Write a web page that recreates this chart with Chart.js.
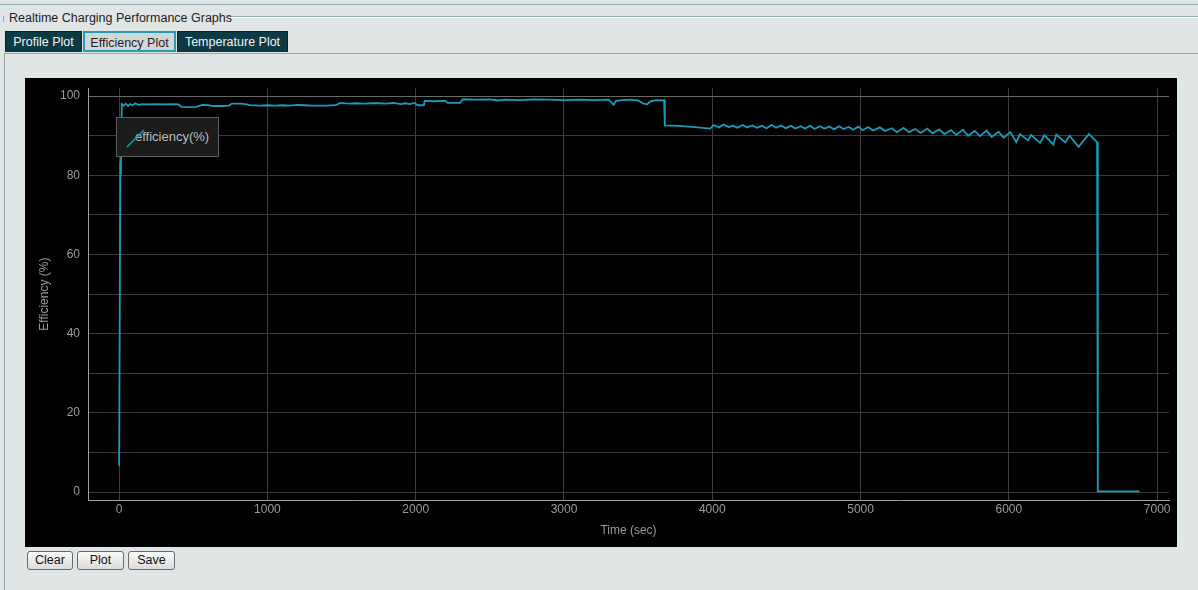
<!DOCTYPE html>
<html>
<head>
<meta charset="utf-8">
<script src="https://cdn.jsdelivr.net/npm/chart.js@4.4.1/dist/chart.umd.min.js"></script>
<style>
  html, body { margin:0; padding:0; width:1198px; height:590px; overflow:hidden; background:#e0e6e6; font-family:"Liberation Sans", Arial, sans-serif; }
  #topline { position:absolute; left:0; top:4px; width:1198px; height:1px; background:#8fb0b6; }
  #fsline { position:absolute; left:228px; top:16px; width:970px; height:1px; background:#8fa9ad; box-shadow:0 1px 0 #fff; }
  #fsleft { position:absolute; left:3px; top:16px; width:1px; height:6px; background:#8fa9ad; }
  #title { position:absolute; left:9px; top:11px; font-size:12.5px; color:#1e1e1e; }
  .tab { position:absolute; top:31px; height:21px; line-height:21px; font-size:12.5px; text-align:center; box-sizing:border-box; }
  .dark { background:#0d3a44; color:#eef4f4; border:1px solid #062429; border-bottom:none; }
  .sel { background:#d2d6d6; color:#1e1e1e; border:2px solid #2a9ab3; }
  #panel { position:absolute; left:4px; top:53px; width:1194px; height:537px; border-top:1px solid #9aa4a4; border-left:1px solid #9aa4a4; box-sizing:border-box; background:#e0e6e6; }
  #chartbox { position:absolute; left:25px; top:78px; width:1152px; height:469px; background:#000; overflow:hidden; }
  #c { position:absolute; left:0; top:-5px; }
  #legend { position:absolute; left:116px; top:117px; width:103px; height:40px; box-sizing:border-box; background:#1b1b1b; border:1px solid #5e5e5e; }
  #legend span { position:absolute; left:18px; top:11px; font-size:13px; color:#bdbdbd; }
  #legend svg { position:absolute; left:9px; top:11px; z-index:2; }
  .btn { position:absolute; top:551px; height:19px; line-height:17px; box-sizing:border-box; font-size:12.5px; text-align:center; color:#111; border:1px solid #6a6a6a; border-radius:3px; background:linear-gradient(#fafafa,#dcdcdc); }
</style>
</head>
<body>
<div id="topline"></div>
<div id="fsline"></div>
<div id="fsleft"></div>
<div id="title">Realtime Charging Performance Graphs</div>
<div id="panel"></div>
<div class="tab dark" style="left:5px;width:77px;">Profile Plot</div>
<div class="tab sel" style="left:83px;width:93px;">Efficiency Plot</div>
<div class="tab dark" style="left:177px;width:111px;">Temperature Plot</div>
<div id="chartbox"><canvas id="c" width="1152" height="474"></canvas></div>
<div id="legend"><span id="legtext"></span><svg width="20" height="20"><line x1="1" y1="18" x2="18" y2="1" stroke="#1a9cb8" stroke-width="1.4"/></svg></div>
<div class="btn" style="left:27px;width:46px;">Clear</div>
<div class="btn" style="left:77px;width:47px;">Plot</div>
<div class="btn" style="left:128px;width:47px;">Save</div>
<script>
const seriesLabel = "efficiency(%)";
const xTitle = "Time (sec)";
const yTitle = "Efficiency (%)";
const xTickValues = [0,1000,2000,3000,4000,5000,6000,7000];
const yTickValues = [0,10,20,30,40,50,60,70,80,90,100];

const timeSec = [
  0,8,12,18,30,45,60,75,90,110,130,160,200,250,300,350,400,420,470,520,560,600,635,700,740,760,820,860,880,950,
  1000,1050,1100,1150,1200,1250,1300,1350,1400,1460,1490,1550,1600,1650,1700,1750,1800,1850,1900,1930,1960,1990,
  2015,2055,2060,2120,2200,2215,2300,2317,2400,2500,2550,2600,2700,2800,2900,3000,3100,3200,3300,3320,3335,3350,
  3400,3450,3500,3530,3560,3580,3620,3660,3675,3680,3800,3900,3985,
  4010,4045,4075,4110,4140,4170,4205,4235,4270,4300,4335,4365,4400,4430,4465,4495,4530,4560,4595,4625,4660,4690,
  4725,4755,4790,4820,4855,4885,4920,4950,4985,5015,
  5050,5085,5130,5165,5210,5245,5290,5325,5370,5405,5450,5485,5530,5565,5610,5645,5690,5725,5770,5805,5850,5885,
  5930,5965,6010,6050,6075,6130,6150,6210,6240,6300,6320,6380,6410,6470,6540,6595,6600,6880
];
const efficiency = [
  6.5,82,81.5,98.0,97.6,98.1,97.5,98.0,97.7,98.2,97.8,98.0,97.9,98.0,97.9,98.0,97.9,97.3,97.2,97.3,97.8,97.7,97.5,97.5,97.6,98.1,98.1,97.9,97.7,97.6,
  97.7,97.6,97.7,97.6,97.8,97.7,97.6,97.6,97.6,97.7,98.3,98.1,98.2,98.1,98.2,98.2,98.1,98.3,98.0,98.2,98.0,98.3,
  97.7,97.7,98.8,98.7,98.8,98.3,98.3,99.2,99.1,99.2,98.9,99.1,99.0,99.2,99.1,99.0,99.1,99.0,99.1,98.4,97.8,98.8,
  99.0,99.1,98.9,98.2,97.9,98.6,99.0,98.9,99.0,92.6,92.4,92.1,91.8,
  92.7,92.1,92.8,92.2,92.5,92.0,92.7,92.1,92.6,92.0,92.5,91.9,92.7,92.0,92.6,91.9,92.5,91.8,92.4,91.8,92.5,91.7,
  92.4,91.8,92.3,91.6,92.4,91.7,92.2,91.5,92.3,91.4,
  92.2,91.3,92.1,91.2,91.9,90.9,92.0,90.9,91.7,90.7,91.8,90.6,91.6,90.4,91.4,90.2,91.5,90.0,91.2,89.9,91.3,89.7,
  91.0,89.5,90.9,88.4,90.4,88.8,90.2,88.2,90.1,87.8,90.3,88.3,90.0,87.2,90.4,88.4,0.2,0.2
];

const points = timeSec.map((t, i) => ({ x: t, y: efficiency[i] }));
document.getElementById('legtext').textContent = seriesLabel;

const FONT = { family: "'Liberation Sans', Arial, sans-serif", size: 12 };

new Chart(document.getElementById('c'), {
  type: 'line',
  data: { datasets: [{ label: seriesLabel, data: points, borderColor: '#1a9cb8', borderWidth: 1.8, pointRadius: 0, fill: false, tension: 0 }] },
  options: {
    responsive: false, animation: false, devicePixelRatio: 1,
    layout: { padding: { left: 0, right: 8, top: 0, bottom: 0 } },
    plugins: { legend: { display: false }, tooltip: { enabled: false } },
    scales: {
      x: {
        type: 'linear', min: -210, max: 7080,
        afterBuildTicks: s => { s.ticks = xTickValues.map(v => ({ value: v })); },
        afterFit: s => { s.height = 47; },
        ticks: { color: '#9a9a9a', font: FONT, padding: 2, maxRotation: 0, autoSkip: false, callback: v => String(v) },
        grid: { color: '#3c3c3c', drawTicks: false },
        border: { color: '#a0a0a0', width: 1 },
        title: { display: true, text: xTitle, color: '#9a9a9a', font: FONT, padding: { top: 0, bottom: 9 } }
      },
      y: {
        type: 'linear', min: -2, max: 102,
        afterBuildTicks: s => { s.ticks = yTickValues.map(v => ({ value: v })); },
        afterFit: s => { s.width = 63; },
        ticks: { color: '#9a9a9a', font: FONT, padding: 8, autoSkip: false, callback: v => (v % 20 === 0 ? String(v) : '') },
        grid: { color: c => (c.tick && c.tick.value === 100 ? '#6a6a6a' : '#3a3a3a'), drawTicks: false },
        border: { color: '#a0a0a0', width: 1 },
        title: { display: true, text: yTitle, color: '#9a9a9a', font: FONT, padding: { top: 12, bottom: 0 } }
      }
    }
  }
});
</script>
</body>
</html>
